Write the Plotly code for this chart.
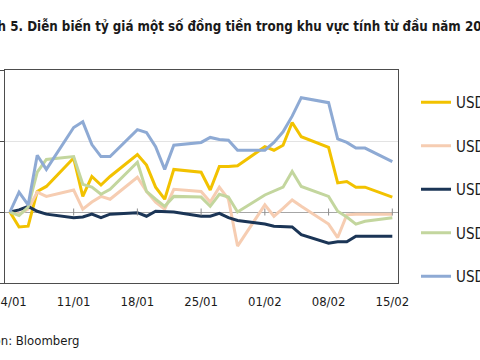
import plotly.graph_objects as go
import pandas as pd

# ---------------- data ----------------
dates = ["2016-01-04", "2016-01-05", "2016-01-06", "2016-01-07", "2016-01-08",
         "2016-01-11", "2016-01-12", "2016-01-13", "2016-01-14", "2016-01-15",
         "2016-01-18", "2016-01-19", "2016-01-20", "2016-01-21", "2016-01-22",
         "2016-01-25", "2016-01-26", "2016-01-27", "2016-01-28", "2016-01-29",
         "2016-02-01", "2016-02-02", "2016-02-03", "2016-02-04", "2016-02-05",
         "2016-02-08", "2016-02-09", "2016-02-10", "2016-02-11", "2016-02-12",
         "2016-02-15"]

series_names = ["USD", "USD", "USD", "USD", "USD"]

yellow = [0, -0.21, -0.20, 0.29, 0.36,
          0.76, 0.22, 0.50, 0.38, 0.50,
          0.81, 0.66, 0.35, 0.18, 0.60,
          0.56, 0.31, 0.64, 0.64, 0.65,
          0.92, 0.87, 0.94, 1.26, 1.06,
          0.91, 0.41, 0.43, 0.35, 0.35,
          0.21]

peach = [0, -0.03, 0.04, 0.28, 0.22,
         0.31, 0.04, 0.14, 0.22, 0.18,
         0.49, 0.29, 0.14, 0.04, 0.32,
         0.29, 0.14, 0.35, 0.18, -0.48,
         0.10, -0.06, 0.05, 0.17, 0.08,
         -0.17, -0.36, -0.04, -0.03, -0.03,
         -0.03]

navy = [0, 0.03, 0.08, 0.01, -0.03,
        -0.08, -0.07, -0.03, -0.08, -0.03,
        -0.01, -0.06, 0.01, 0.0, 0.0,
        -0.06, -0.06, -0.02, -0.08, -0.12,
        -0.17, -0.20, -0.21, -0.21, -0.32,
        -0.44, -0.42, -0.42, -0.34, -0.34,
        -0.34]

green = [0, -0.05, 0.07, 0.56, 0.74,
         0.78, 0.39, 0.35, 0.25, 0.32,
         0.70, 0.29, 0.18, 0.08, 0.22,
         0.21, 0.08, 0.25, 0.21, 0.0,
         0.24, 0.29, 0.35, 0.57, 0.36,
         0.22, 0.01, -0.07, -0.17, -0.13,
         -0.08]

blue = [0, 0.28, 0.10, 0.80, 0.60,
        1.19, 1.27, 0.95, 0.78, 0.78,
        1.16, 1.12, 0.92, 0.60, 0.94,
        0.98, 1.05, 1.02, 1.01, 0.87,
        0.87, 0.98, 1.13, 1.35, 1.61,
        1.54, 1.03, 0.98, 0.90, 0.90,
        0.71]

tick_dates = ["2016-01-04", "2016-01-11", "2016-01-18", "2016-01-25",
              "2016-02-01", "2016-02-08", "2016-02-15"]
tick_text = ["04/01", "11/01", "18/01", "25/01", "01/02", "08/02", "15/02"]

title_text = "Hình 5. Diễn biến tỷ giá một số đồng tiền trong khu vực tính từ đầu năm 2016"
source_text = "Nguồn: Bloomberg"

# ---------------- styling ----------------
W, H = 480, 360
ML, MR, MT, MB = 5, 82, 70, 77
PW, PH = W - ML - MR, H - MT - MB

def px_x(px):
    return (px - ML) / PW

def px_y(py):
    return (H - MB - py) / PH

FONT = "DejaVu Sans Condensed, Liberation Sans, Arial, sans-serif"
colors = ["#F2C200", "#F6CDB2", "#1B3556", "#C3D69E", "#8EAAD4"]
values = [yellow, peach, navy, green, blue]

fig = go.Figure()
for i, (name, vals, col) in enumerate(zip(series_names, values, colors)):
    fig.add_trace(go.Scatter(
        x=dates, y=vals, mode="lines", name=name,
        legendgroup=f"g{i}",
        line=dict(color=col, width=3),
    ))

# small category tick marks sitting on the zero line
fig.add_trace(go.Scatter(
    x=tick_dates[1:], y=[0] * (len(tick_dates) - 1), mode="markers",
    marker=dict(symbol="line-ns", size=5, line=dict(width=1, color="#8C8C8C")),
    showlegend=False, hoverinfo="skip",
))

x0 = pd.Timestamp(dates[0]) - pd.Timedelta(hours=13)
x1 = pd.Timestamp(dates[-1]) + pd.Timedelta(hours=15)

fig.update_layout(
    width=W, height=H,
    margin=dict(l=ML, r=MR, t=MT, b=MB, autoexpand=False),
    paper_bgcolor="white", plot_bgcolor="white",
    font=dict(family=FONT, size=13, color="#1A1A1A"),
    showlegend=True,
    legend=dict(
        x=px_x(416), y=px_y(86), xanchor="left", yanchor="top",
        font=dict(family=FONT, size=15, color="#1A1A1A"),
        itemwidth=30, tracegroupgap=21, bgcolor="rgba(0,0,0,0)",
    ),
    xaxis=dict(
        type="date", range=[x0, x1], automargin=False,
        tickvals=tick_dates, ticktext=tick_text,
        showgrid=False, zeroline=False,
        showline=True, mirror=True, linecolor="#4D4D4D", linewidth=1,
        ticks="", ticklabelstandoff=6, ticklabeloverflow="allow",
        tickfont=dict(family=FONT, size=13, color="#1A1A1A"),
    ),
    yaxis=dict(
        range=[-1, 2], dtick=1, tick0=0, automargin=False,
        showgrid=True, gridcolor="#E3E3E3", gridwidth=1,
        zeroline=True, zerolinecolor="#A6A6A6", zerolinewidth=1,
        showline=True, mirror=True, linecolor="#4D4D4D", linewidth=1,
        ticks="outside", ticklen=4, tickcolor="#4D4D4D",
        showticklabels=False,
    ),
    annotations=[
        dict(text="<b>" + title_text + "</b>", xref="paper", yref="paper",
             x=px_x(-27.5), y=px_y(26), xanchor="left", yanchor="middle",
             showarrow=False, font=dict(family=FONT, size=13.25, color="#1A1A1A")),
        dict(text=source_text, xref="paper", yref="paper",
             x=px_x(81), y=px_y(340), xanchor="right", yanchor="middle",
             showarrow=False, font=dict(family=FONT, size=13, color="#1A1A1A")),
    ],
)

fig.write_html("out.html", config={"displayModeBar": False},
               post_script="document.body.style.margin='0';")
